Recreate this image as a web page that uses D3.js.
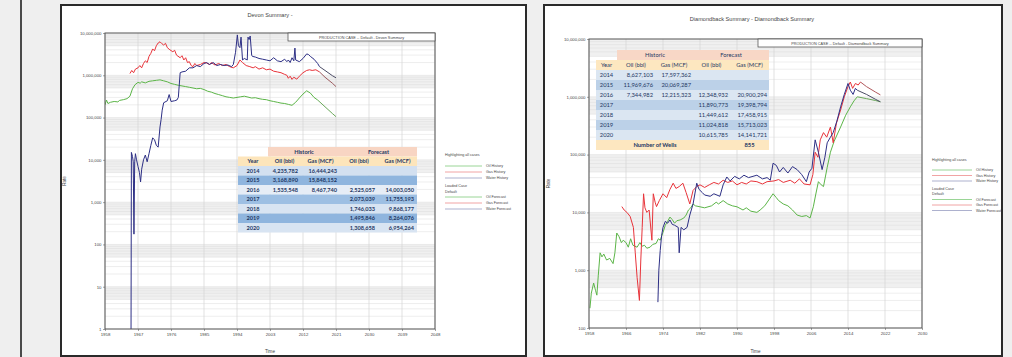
<!DOCTYPE html>
<html>
<head>
<meta charset="utf-8">
<script src="https://cdn.jsdelivr.net/npm/d3@7"></script>
<style>
  html, body { margin: 0; padding: 0; background: #efefef; }
  svg { display: block; }
</style>
</head>
<body>
<svg id="chart" width="1012" height="357"></svg>
<script>
// ---- Devon chart data ----
const devonTitle = 'Devon Summary -';
const devonCase = 'PRODUCTION CASE -- Default - Devon Summary';
const devonXTicks = [1958, 1967, 1976, 1985, 1994, 2003, 2012, 2021, 2030, 2039, 2048];
const devonYDomain = [1, 1e7];

const devonOilHist = [[1958,200000],[1958.4,260000],[1958.8,215000],[1959.5,230000],[1960.5,240000],[1961.5,235000],[1962,255000],[1963,265000],[1964,280000],[1964.8,320000],[1965.5,480000],[1966.2,600000],[1967,680000],[1967.6,650000],[1968,700000],[1969,660000],[1970,720000],[1971,740000],[1972,760000],[1973,780000],[1974,740000],[1975,700000],[1976,640000],[1977,610000],[1978,580000],[1979,560000],[1980,540000],[1981,520000],[1982,500000],[1983,480000],[1984,490000],[1985,460000],[1986,420000],[1987,400000],[1988,370000],[1989,350000],[1990,330000],[1991,310000],[1992,300000],[1993,290000],[1994,300000],[1995,310000],[1996,320000],[1997,305000],[1998,290000],[1999,295000],[2000,280000],[2001,270000],[2002,265000],[2003,250000],[2004,240000],[2005,230000],[2006,220000],[2007,215000],[2008,205000],[2009,195000],[2010,230000],[2011,290000],[2012,360000],[2013,430000],[2014,380000],[2015,300000],[2016,260000]];
const devonOilFcst = [[2016,260000],[2018,180000],[2020,125000],[2021,105000]];

const devonGasHist = [[1964.8,1100000],[1965.3,1300000],[1965.8,1150000],[1966.3,1400000],[1967,1500000],[1967.5,1700000],[1968,1500000],[1968.5,1900000],[1969,2200000],[1969.5,2000000],[1970,2800000],[1970.5,3300000],[1971,4200000],[1971.5,3800000],[1972,5000000],[1972.5,5800000],[1973,6200000],[1973.5,5600000],[1974,5200000],[1974.5,5700000],[1975,4500000],[1975.7,4000000],[1976.5,3600000],[1977,3900000],[1977.5,3000000],[1978.5,2600000],[1979,2900000],[1979.5,2300000],[1980,2600000],[1980.5,2000000],[1981,2100000],[1981.5,1700000],[1982,1600000],[1982.5,1900000],[1983,1700000],[1984,1800000],[1985,2000000],[1985.7,1950000],[1986.5,1800000],[1987,2000000],[1988,1750000],[1989,1900000],[1990,1700000],[1991,1800000],[1992,1600000],[1993,1500000],[1994,1700000],[1994.8,2300000],[1995.5,2000000],[1996.5,1700000],[1997.5,1600000],[1998.4,1500000],[1999,1600000],[2000,1400000],[2001,1500000],[2002,1350000],[2003,1400000],[2004,1250000],[2005,1200000],[2006,1150000],[2007,1050000],[2007.6,1000000],[2008,850000],[2008.5,950000],[2009,800000],[2009.5,900000],[2010.3,810000],[2011,950000],[2012,1150000],[2013,1300000],[2013.8,1350000],[2014.5,1300000],[2015.5,1350000],[2016.5,1200000]];
const devonGasFcst = [[2016.5,1200000],[2018,900000],[2020,650000],[2021,540000]];

const devonWaterHist = [[1965.1,1],[1965.2,15000],[1965.5,12000],[1965.7,9000],[1965.9,175],[1966.1,9000],[1966.3,14000],[1966.6,10000],[1967,7000],[1967.4,5000],[1967.7,3000],[1968,6000],[1968.5,10000],[1969,13000],[1969.5,9000],[1970,14000],[1970.5,22000],[1971,33000],[1971.5,30000],[1972,22000],[1972.5,20000],[1973,60000],[1973.3,90000],[1973.6,150000],[1974,224000],[1975,250000],[1975.5,350000],[1976,240000],[1977,250000],[1977.6,260000],[1978,300000],[1978.5,1150000],[1979,1200000],[1980,1250000],[1981,1500000],[1982,1500000],[1983,1700000],[1984,1600000],[1985,1900000],[1985.7,2000000],[1986.5,1800000],[1987.5,2000000],[1988.5,1700000],[1989.5,1800000],[1990.5,1700000],[1991.5,1750000],[1992.5,1600000],[1993,1800000],[1993.6,3500000],[1994.1,9000000],[1994.4,5000000],[1994.8,4500000],[1995.1,8000000],[1995.5,2300000],[1996,2500000],[1996.8,2300000],[1997,8000000],[1997.3,7000000],[1997.6,8500000],[1998,3000000],[1998.2,2800000],[1999,2700000],[2000,2500000],[2001,2400000],[2002,2300000],[2003,2200000],[2004,2600000],[2005,2200000],[2006,2100000],[2007,2400000],[2007.6,2100000],[2008,2300000],[2008.5,2000000],[2009,2600000],[2009.5,2200000],[2009.8,4400000],[2010,2300000],[2011,2100000],[2012,2500000],[2013,3200000],[2013.5,3100000],[2014,2800000],[2015,2400000],[2016,1900000],[2016.5,1600000]];
const devonWaterFcst = [[2016.5,1600000],[2018,1300000],[2020,980000],[2021,870000]];

const devonTableYears = [2014, 2015, 2016, 2017, 2018, 2019, 2020];
const devonHistOil = [4235782, 3168890, 1535548, null, null, null, null];
const devonHistGas = [16444243, 15848152, 8467740, null, null, null, null];
const devonFcstOil = [null, null, 2525057, 2073039, 1746033, 1495846, 1308658];
const devonFcstGas = [null, null, 14003050, 11755193, 9868177, 8264076, 6954264];

// ---- Diamondback chart data ----
const diamondTitle = 'Diamondback Summary - Diamondback Summary';
const diamondCase = 'PRODUCTION CASE -- Default - Diamondback Summary';
const diamondXTicks = [1958, 1966, 1974, 1982, 1990, 1998, 2006, 2014, 2022, 2030];
const diamondYDomain = [100, 1e7];

const diamondOilHist = [[1958.2,220],[1958.5,400],[1959,600],[1959.4,450],[1959.7,370],[1960,800],[1960.4,2000],[1960.8,1700],[1961.2,1900],[1961.8,1500],[1962.5,1600],[1963.2,1300],[1963.6,2000],[1964,4400],[1964.5,3800],[1965,3000],[1965.4,3300],[1966,3000],[1966.5,2500],[1967,3500],[1967.5,2700],[1968.4,2500],[1969,3000],[1969.5,2600],[1970,2700],[1970.5,2400],[1971.2,2500],[1971.8,2800],[1972.5,2900],[1973,3500],[1973.4,3300],[1974,4500],[1974.5,6000],[1975,7000],[1975.5,8300],[1976,7500],[1976.5,6500],[1977,7200],[1977.7,7400],[1978.5,8000],[1979,9000],[1979.5,11000],[1980,12000],[1980.5,14000],[1981,13000],[1982,12500],[1983,12000],[1984.5,13000],[1985.5,15000],[1986,14000],[1987,16000],[1988,14000],[1989,13000],[1990,12500],[1991.3,11000],[1992,12000],[1993,10500],[1994.3,10000],[1995,11000],[1996,13000],[1997,17000],[1997.8,21000],[1998.5,18000],[1999,16000],[2000,14000],[2001,13000],[2002,11000],[2003,9000],[2004,8500],[2005,8800],[2005.8,8000],[2006.5,12500],[2007,20000],[2007.6,34000],[2008.2,30000],[2008.7,28000],[2009.5,60000],[2010.2,110000],[2011,170000],[2012.4,300000],[2013.5,480000],[2014.5,670000],[2015.3,850000],[2016,1000000]];
const diamondOilFcst = [[2016,1000000],[2018,930000],[2020,860000],[2021,820000]];

const diamondGasHist = [[1965.1,12600],[1965.6,11000],[1966.2,10000],[1966.9,8500],[1967.6,5500],[1968,2000],[1968.4,750],[1968.9,300],[1969.2,1500],[1969.5,5500],[1969.8,21000],[1970.1,12000],[1970.5,10000],[1971,11000],[1971.6,3300],[1971.9,21000],[1972.3,15000],[1972.6,12600],[1973.2,16000],[1974,21000],[1974.8,18000],[1975.5,25000],[1976.2,32000],[1976.8,26000],[1977.5,28000],[1978.3,32000],[1979,22000],[1979.8,14000],[1980.5,24000],[1981.3,28000],[1982,30000],[1983,27000],[1984,30000],[1985,33000],[1986,31000],[1987,36000],[1988,33000],[1989,35000],[1990,30000],[1991,33000],[1992,31000],[1993,35000],[1994.3,34000],[1995.5,31000],[1996.5,34000],[1998,35000],[1999,37000],[2000,33000],[2001.5,36000],[2002.5,32000],[2003.5,38000],[2004.5,31000],[2005.8,30000],[2006.4,45000],[2006.9,110000],[2007.5,90000],[2008,180000],[2008.7,240000],[2009.4,200000],[2010.2,300000],[2010.8,160000],[2011.5,350000],[2012.4,590000],[2013.2,1000000],[2014,1500000],[2014.5,1800000],[2015,1400000],[2015.6,1700000],[2016.2,1600000],[2016.7,1800000]];
const diamondGasFcst = [[2016.7,1800000],[2018,1500000],[2020,1200000],[2021,1080000]];

const diamondWaterHist = [[1972.9,280],[1973.1,1000],[1973.4,2200],[1973.7,4000],[1974,5500],[1974.5,7000],[1975,6500],[1975.5,7400],[1976,6200],[1976.5,6000],[1977.3,5500],[1977.5,2000],[1977.9,5500],[1978.5,5000],[1979.2,5500],[1979.8,9000],[1980.5,14000],[1981.3,32000],[1981.8,25000],[1982.5,22000],[1983,20000],[1984.2,19000],[1985,21000],[1986.3,19000],[1987,30000],[1987.8,41000],[1988.5,35000],[1989.5,42000],[1990.5,38000],[1991.5,44000],[1992.5,40000],[1994.3,44000],[1995.5,38000],[1996.5,40000],[1997.2,36000],[1997.8,71000],[1998.5,65000],[1999.2,50000],[2000,60000],[2001,48000],[2002,62000],[2003,55000],[2004,45000],[2005,34000],[2005.6,50000],[2006.2,58000],[2006.9,180000],[2007.6,110000],[2008.4,55000],[2009,90000],[2009.5,160000],[2010.2,200000],[2010.8,240000],[2011.6,380000],[2012.4,670000],[2013.2,1100000],[2014,1700000],[2014.5,1300000],[2015.1,1100000],[2015.6,1400000],[2016,1300000]];
const diamondWaterFcst = [[2016,1300000],[2018,1100000],[2020,900000],[2021,820000]];

const diamondTableYears = [2014, 2015, 2016, 2017, 2018, 2019, 2020];
const diamondHistOil = [8627103, 11969676, 7344982, null, null, null, null];
const diamondHistGas = [17597362, 20069287, 12215323, null, null, null, null];
const diamondFcstOil = [null, null, 12348932, 11890773, 11449612, 11024818, 10615785];
const diamondFcstGas = [null, null, 20900294, 19398794, 17458915, 15713023, 14141721];
const diamondWells = 855;

const legendHist = ['Oil History', 'Gas History', 'Water History'];
const legendFcst = ['Oil Forecast', 'Gas Forecast', 'Water Forecast'];

// ---- drawing ----
const svg = d3.select('#chart');
const fmt = d3.format(',');
const axisFont = '"Liberation Sans", Arial, sans-serif';
const tableFont = 'Lato, "Open Sans", sans-serif';

svg.append('rect').attr('width', 1012).attr('height', 357).attr('fill', '#efefef');
svg.append('line').attr('x1', 21).attr('x2', 21).attr('y1', 0).attr('y2', 357)
  .attr('stroke', '#4a4a4a').attr('stroke-width', 2);

function drawPanel(x, y, w, h) {
  svg.append('rect').attr('x', x).attr('y', y).attr('width', w).attr('height', h)
    .attr('fill', '#fff').attr('stroke', '#2a2a2a').attr('stroke-width', 2);
}

function drawChart(o) {
  const g = svg.append('g');
  const x = d3.scaleLinear().domain([o.xTicks[0], o.xTicks[o.xTicks.length - 1]]).range([o.x0, o.x1]);
  const y = d3.scaleLog().domain(o.yDomain).range([o.y1, o.y0]);
  const lo = Math.round(Math.log10(o.yDomain[0])), hi = Math.round(Math.log10(o.yDomain[1]));
  const decades = d3.range(lo, hi + 1).map(n => Math.pow(10, n));

  g.append('rect').attr('x', o.x0).attr('y', o.y0).attr('width', o.x1 - o.x0).attr('height', o.y1 - o.y0)
    .attr('fill', '#fff');

  // shaded bands in the upper half of each decade
  g.selectAll('rect.band').data(decades.slice(0, -1)).enter().append('rect')
    .attr('class', 'band')
    .attr('x', o.x0).attr('width', o.x1 - o.x0)
    .attr('y', d => y(d * 10))
    .attr('height', d => y(d * 5) - y(d * 10))
    .attr('fill', '#f0f0f0');

  // minor horizontal grid
  const minors = [];
  decades.slice(0, -1).forEach(d => { for (let k = 1; k < 10; k++) minors.push(d * k); });
  g.selectAll('line.minor').data(minors).enter().append('line')
    .attr('x1', o.x0).attr('x2', o.x1)
    .attr('y1', d => y(d)).attr('y2', d => y(d))
    .attr('stroke', '#dcdcdc').attr('stroke-width', 0.5);

  // vertical grid
  g.selectAll('line.vgrid').data(o.xTicks).enter().append('line')
    .attr('x1', d => x(d)).attr('x2', d => x(d))
    .attr('y1', o.y0).attr('y2', o.y1)
    .attr('stroke', '#d4d4d4').attr('stroke-width', 0.7);

  // axes
  const yAxis = g.append('g').attr('transform', `translate(${o.x0},0)`)
    .call(d3.axisLeft(y).tickValues(decades).tickFormat(fmt).tickSize(2).tickPadding(1.5));
  const xAxis = g.append('g').attr('transform', `translate(0,${o.y1})`)
    .call(d3.axisBottom(x).tickValues(o.xTicks).tickFormat(d3.format('d')).tickSize(2).tickPadding(2));
  [yAxis, xAxis].forEach(a => {
    a.select('.domain').remove();
    a.selectAll('line').attr('stroke', '#666').attr('stroke-width', 0.6);
    a.selectAll('text').attr('font-family', axisFont).attr('font-size', 4.3).attr('fill', '#444');
  });

  // series
  const clipId = 'clip' + o.id;
  g.append('clipPath').attr('id', clipId).append('rect')
    .attr('x', o.x0).attr('y', o.y0).attr('width', o.x1 - o.x0).attr('height', o.y1 - o.y0);
  const line = d3.line().x(d => x(d[0])).y(d => y(d[1]));
  const lines = g.append('g').attr('clip-path', `url(#${clipId})`);
  o.series.forEach(s => {
    lines.append('path').datum(s.data)
      .attr('d', line).attr('fill', 'none')
      .attr('stroke', s.color).attr('stroke-width', 1)
      .attr('stroke-linejoin', 'round');
  });

  // plot frame
  g.append('rect').attr('x', o.x0).attr('y', o.y0).attr('width', o.x1 - o.x0).attr('height', o.y1 - o.y0)
    .attr('fill', 'none').attr('stroke', '#555').attr('stroke-width', 1);

  // case legend box
  g.append('rect').attr('x', o.caseX).attr('y', o.y0).attr('width', o.x1 - o.caseX).attr('height', 8)
    .attr('fill', '#fff').attr('stroke', '#444').attr('stroke-width', 0.7);
  g.append('text').attr('x', (o.caseX + o.x1) / 2).attr('y', o.y0 + 5.5)
    .attr('text-anchor', 'middle').attr('font-family', axisFont).attr('font-size', 3.8).attr('fill', '#444')
    .text(o.caseText);

  // titles
  g.append('text').attr('x', o.titleX).attr('y', o.titleY).attr('text-anchor', 'middle')
    .attr('font-family', axisFont).attr('font-size', 5.6).attr('fill', '#444').text(o.title);
  g.append('text').attr('x', (o.x0 + o.x1) / 2).attr('y', 353).attr('text-anchor', 'middle')
    .attr('font-family', axisFont).attr('font-size', 4.6).attr('fill', '#444').text('Time');
  g.append('text').attr('transform', `translate(${o.rateX},${(o.y0 + o.y1) / 2}) rotate(-90)`)
    .attr('text-anchor', 'middle').attr('font-family', axisFont).attr('font-size', 4.6).attr('fill', '#444')
    .text('Rate');

  // series legend
  const lg = g.append('g').attr('transform', `translate(${o.legX},${o.legY})`)
    .attr('font-family', axisFont).attr('font-size', 3.7).attr('fill', '#444');
  lg.append('text').attr('x', 0).attr('y', 0).text('Highlighting all cases');
  const legColors = ['#8fd08a', '#ef9a9a', '#a4a8c8'];
  legendHist.forEach((t, i) => {
    const yy = o.legGap1 + i * o.legStep;
    lg.append('line').attr('x1', 0).attr('x2', o.legLen).attr('y1', yy).attr('y2', yy)
      .attr('stroke', legColors[i]).attr('stroke-width', 0.9);
    lg.append('text').attr('x', o.legLen + 4).attr('y', yy + 1.3).text(t);
  });
  lg.append('text').attr('x', 0).attr('y', o.legGap1 + 3 * o.legStep + 3).text('Loaded Case');
  lg.append('text').attr('x', 0).attr('y', o.legGap1 + 3 * o.legStep + 8.5).text('Default');
  legendFcst.forEach((t, i) => {
    const yy = o.legGap1 + 3 * o.legStep + 13 + i * o.legStep;
    lg.append('line').attr('x1', 0).attr('x2', o.legLen).attr('y1', yy).attr('y2', yy)
      .attr('stroke', legColors[i]).attr('stroke-width', 0.9);
    lg.append('text').attr('x', o.legLen + 4).attr('y', yy + 1.3).text(t);
  });
}

function drawTable(o) {
  const g = svg.append('g').attr('font-family', tableFont).attr('font-size', o.fontSize)
    .attr('font-weight', o.weight).attr('fill', '#1f3864');
  const c = o.cols, rh = o.rowH, top = o.top;
  const rowY = i => top + i * rh;
  // header 1
  g.append('rect').attr('x', c[1]).attr('y', rowY(0)).attr('width', c[3] - c[1]).attr('height', rh).attr('fill', o.peach);
  g.append('rect').attr('x', c[3]).attr('y', rowY(0)).attr('width', c[5] - c[3]).attr('height', rh).attr('fill', o.peach);
  g.append('text').attr('x', (c[1] + c[3]) / 2).attr('y', rowY(0) + rh * 0.72).attr('text-anchor', 'middle').text('Historic');
  g.append('text').attr('x', (c[3] + c[5]) / 2).attr('y', rowY(0) + rh * 0.72).attr('text-anchor', 'middle').text('Forecast');
  // header 2
  g.append('rect').attr('x', c[0]).attr('y', rowY(1)).attr('width', c[5] - c[0]).attr('height', rh).attr('fill', o.gold);
  ['Year', 'Oil (bbl)', 'Gas (MCF)', 'Oil (bbl)', 'Gas (MCF)'].forEach((t, i) => {
    g.append('text').attr('x', (c[i] + c[i + 1]) / 2).attr('y', rowY(1) + rh * 0.72)
      .attr('text-anchor', 'middle').text(t);
  });
  // body rows
  const cols = [o.histOil, o.histGas, o.fcstOil, o.fcstGas];
  o.years.forEach((yr, r) => {
    const yy = rowY(2 + r);
    g.append('rect').attr('x', c[0]).attr('y', yy).attr('width', c[5] - c[0]).attr('height', rh)
      .attr('fill', o.rowFills[r]);
    g.append('text').attr('x', (c[0] + c[1]) / 2).attr('y', yy + rh * 0.72).attr('text-anchor', 'middle').text(yr);
    cols.forEach((arr, j) => {
      if (arr[r] == null) return;
      g.append('text').attr('x', c[j + 2] - o.pad).attr('y', yy + rh * 0.72)
        .attr('text-anchor', 'end').text(fmt(arr[r]));
    });
  });
  if (o.wells != null) {
    const yy = rowY(2 + o.years.length);
    g.append('rect').attr('x', c[0]).attr('y', yy).attr('width', c[5] - c[0]).attr('height', rh).attr('fill', o.gold);
    g.append('text').attr('x', (c[1] + c[3]) / 2).attr('y', yy + rh * 0.72).attr('text-anchor', 'middle')
      .attr('font-weight', 'bold').text('Number of Wells');
    g.append('text').attr('x', (c[4] + c[5]) / 2).attr('y', yy + rh * 0.72).attr('text-anchor', 'middle')
      .attr('font-weight', 'bold').text(o.wells);
  }
}

// panels
drawPanel(61, 5, 465, 351);
drawPanel(544, 5, 458, 351);

drawChart({
  id: 'devon', title: devonTitle, titleX: 270, titleY: 17, caseText: devonCase, caseX: 288,
  x0: 105, x1: 435, y0: 33, y1: 329, xTicks: devonXTicks, yDomain: devonYDomain, rateX: 66,
  legX: 445, legY: 156, legLen: 37, legGap1: 10, legStep: 6,
  series: [
    { data: devonOilHist, color: '#5cb548' }, { data: devonOilFcst, color: '#6aa85a' },
    { data: devonGasHist, color: '#e8333a' }, { data: devonGasFcst, color: '#9b5a5e' },
    { data: devonWaterHist, color: '#2d2f85' }, { data: devonWaterFcst, color: '#4c4d66' }
  ]
});

drawChart({
  id: 'diamond', title: diamondTitle, titleX: 752, titleY: 21, caseText: diamondCase, caseX: 758,
  x0: 589, x1: 922, y0: 39, y1: 328, xTicks: diamondXTicks, yDomain: diamondYDomain, rateX: 550,
  legX: 932, legY: 161, legLen: 40, legGap1: 9, legStep: 5.5,
  series: [
    { data: diamondOilHist, color: '#5cb548' }, { data: diamondOilFcst, color: '#6aa85a' },
    { data: diamondGasHist, color: '#e8333a' }, { data: diamondGasFcst, color: '#b0585c' },
    { data: diamondWaterHist, color: '#2d2f85' }, { data: diamondWaterFcst, color: '#4c4d66' }
  ]
});

drawTable({
  cols: [238, 268, 301, 340, 378, 417], top: 147, rowH: 9.5, fontSize: 5.6, weight: 'bold', pad: 3,
  peach: '#f8d5c3', gold: '#fde5bb',
  rowFills: ['#d3e0f0', '#8fb5de', '#e6edf6', '#9dbfe3', '#d8e4f2', '#8fb5de', '#d8e4f2'],
  years: devonTableYears, histOil: devonHistOil, histGas: devonHistGas,
  fcstOil: devonFcstOil, fcstGas: devonFcstGas, wells: null
});

drawTable({
  cols: [596, 617, 655, 693, 730, 769], top: 50, rowH: 10, fontSize: 5.8, weight: 'normal', pad: 2,
  peach: '#f8d7c6', gold: '#fde7c0',
  rowFills: ['#dbe6f2', '#bcd1e8', '#dbe6f2', '#bcd1e8', '#dbe6f2', '#bcd1e8', '#dbe6f2'],
  years: diamondTableYears, histOil: diamondHistOil, histGas: diamondHistGas,
  fcstOil: diamondFcstOil, fcstGas: diamondFcstGas, wells: diamondWells
});
</script>
</body>
</html>
